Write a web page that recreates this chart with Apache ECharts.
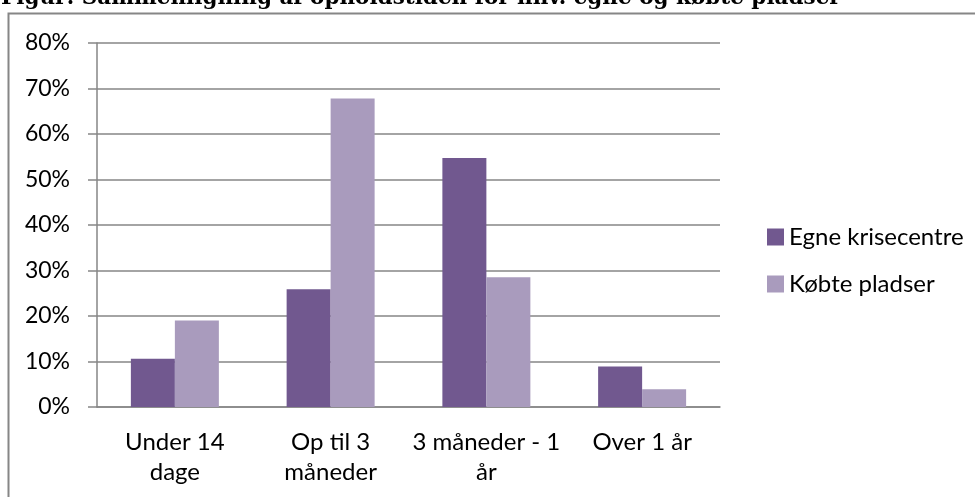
<!DOCTYPE html>
<html><head><meta charset="utf-8">
<script src="https://cdn.jsdelivr.net/npm/echarts@6/dist/echarts.min.js"></script>
<style>html,body{margin:0;padding:0;background:#fff}#c{width:975px;height:497px}</style>
</head><body><div id="c"></div>
<script>
const categories = ['Under 14\ndage', 'Op til 3\nmåneder', '3 måneder - 1\når', 'Over 1 år'];
const egne = [0.106, 0.259, 0.547, 0.089];
const koebte = [0.190, 0.678, 0.285, 0.039];
const seriesNames = ['Egne krisecentre', 'Købte pladser'];
const titleText = 'Figur: Sammenligning af opholdstiden for hhv. egne og købte pladser';

const FONT = 'Lato';
const chart = echarts.init(document.getElementById('c'), null, {renderer: 'canvas'});
chart.setOption({
  animation: false,
  title: {
    text: titleText, left: -4, top: -18,
    textStyle: {fontFamily: 'DejaVu Serif', fontWeight: 'bold', fontSize: 21.5, color: '#000'}
  },
  graphic: [
    {type: 'polyline', shape: {points: [[8.5, 600], [8.5, 13.5], [980, 13.5]]},
     style: {stroke: '#868686', lineWidth: 2, fill: null}, silent: true}
  ],
  legend: {
    orient: 'vertical', left: 762, top: 220, itemWidth: 17, itemHeight: 17, itemGap: 23,
    icon: 'rect',
    textStyle: {fontFamily: FONT, fontSize: 24, color: '#000'},
    data: seriesNames
  },
  grid: {left: 97, right: 255, top: 43, bottom: 90},
  xAxis: {
    type: 'category', data: categories,
    axisLine: {lineStyle: {color: '#868686', width: 1.5}},
    axisTick: {length: 8, lineStyle: {color: '#868686', width: 1.5}},
    axisLabel: {interval: 0, fontFamily: FONT, fontSize: 24, color: '#000', margin: 20, lineHeight: 30}
  },
  yAxis: {
    type: 'value', min: 0, max: 0.8, interval: 0.1,
    axisLine: {show: true, lineStyle: {color: '#868686', width: 1.5}},
    axisTick: {show: true, length: 9, lineStyle: {color: '#868686', width: 1.5}},
    splitLine: {lineStyle: {color: '#868686', width: 1.5}},
    axisLabel: {fontFamily: FONT, fontSize: 23, color: '#000', margin: 27,
      formatter: v => Math.round(v * 100) + '%'}
  },
  series: [
    {name: seriesNames[0], type: 'bar', data: egne, barGap: '0%', barCategoryGap: '43.5%',
     itemStyle: {color: '#71588F'}},
    {name: seriesNames[1], type: 'bar', data: koebte, barGap: '0%', barCategoryGap: '43.5%',
     itemStyle: {color: '#A99BBD'}}
  ]
});
</script></body></html>
